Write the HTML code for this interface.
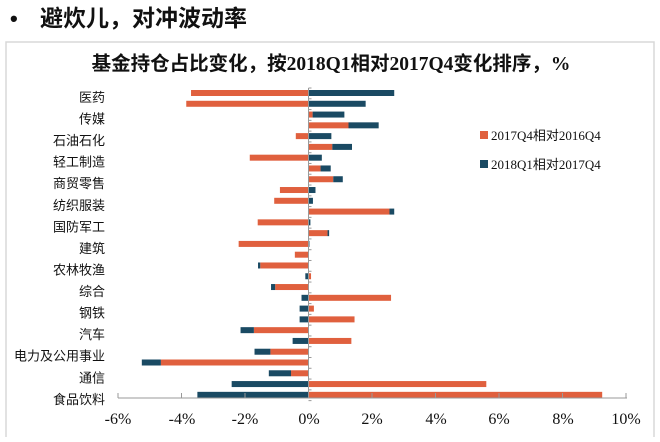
<!DOCTYPE html>
<html><head><meta charset="utf-8"><style>
body{margin:0;width:660px;height:437px;background:#fff;overflow:hidden;font-family:"Liberation Sans","Noto Sans CJK SC",sans-serif;}
</style></head><body>
<svg width="660" height="437" xmlns="http://www.w3.org/2000/svg">
<text x="10" y="26" font-size="22" font-weight="bold" font-family="Liberation Sans,Noto Sans CJK SC,sans-serif" fill="#111">•</text>
<text x="40" y="26" font-size="23" font-weight="bold" font-family="Liberation Sans,Noto Sans CJK SC,sans-serif" fill="#111">避炊儿，对冲波动率</text>
<rect x="6" y="42" width="648" height="400" fill="none" stroke="#d8d8d8" stroke-width="1.5"/>
<text x="331" y="70" text-anchor="middle" font-size="19.5" font-weight="bold" font-family="Liberation Serif,Noto Sans CJK SC,serif" fill="#111">基金持仓占比变化，按2018Q1相对2017Q4变化排序，%</text>
<g id="bars"></g>
<line x1="118" y1="398" x2="627" y2="398" stroke="#999" stroke-width="1"/>
<g stroke="#999" stroke-width="1" id="ticks"></g>
<g font-family="Liberation Serif,serif" font-size="16" fill="#111" text-anchor="middle">
<text x="118" y="424">-6%</text><text x="182" y="424">-4%</text><text x="245" y="424">-2%</text><text x="309" y="424">0%</text><text x="372" y="424">2%</text><text x="436" y="424">4%</text><text x="499" y="424">6%</text><text x="563" y="424">8%</text><text x="626" y="424">10%</text>
</g>
<g font-family="Liberation Sans,Noto Sans CJK SC,sans-serif" font-size="13" fill="#111" text-anchor="end" id="labels"></g>
<rect x="480" y="131" width="8" height="8" fill="#E0603E"/>
<text x="491" y="140" font-size="13" font-family="Liberation Serif,Noto Sans CJK SC,serif" fill="#111">2017Q4相对2016Q4</text>
<rect x="480" y="160" width="8" height="8" fill="#1A4A63"/>
<text x="491" y="169" font-size="13" font-family="Liberation Serif,Noto Sans CJK SC,serif" fill="#111">2018Q1相对2017Q4</text>
</svg>
<script>
var d=[[-3.7,2.7],[-3.85,1.8],[0.13,1.0],[1.26,0.95],[-0.4,0.72],[0.75,0.62],[-1.85,0.42],[0.38,0.32],[0.78,0.3],[-0.9,0.22],[-1.08,0.14],[2.55,0.15],[-1.6,0.06],[0.6,0.05],[-2.2,0.03],[-0.43,0],[-1.52,-0.07],[0.08,-0.1],[-1.05,-0.13],[2.6,-0.22],[0.17,-0.28],[1.45,-0.28],[-1.72,-0.42],[1.35,-0.5],[-1.2,-0.5],[-4.65,-0.6],[-0.55,-0.7],[5.6,-2.42],[9.25,-3.5]];
var L=["医药","传媒","石油石化","轻工制造","商贸零售","纺织服装","国防军工","建筑","农林牧渔","综合","钢铁","汽车","电力及公用事业","通信","食品饮料"];
var z=308.5,s=31.75,ns="http://www.w3.org/2000/svg",g=document.getElementById('bars');
function r(x,y,w,c){var e=document.createElementNS(ns,'rect');e.setAttribute('x',x);e.setAttribute('y',y);e.setAttribute('width',Math.max(w,0.5));e.setAttribute('height',6);e.setAttribute('fill',c);g.appendChild(e);}
d.forEach(function(v,i){var y=93+i*10.78-3,p=0,n=0;
[[v[0],'#E0603E'],[v[1],'#1A4A63']].forEach(function(q){var a=q[0];if(a>=0){r(z+p*s,y,a*s,q[1]);p+=a;}else{n+=a;r(z+n*s,y,-a*s,q[1]);}});});
var t=document.getElementById('ticks');
for(var i=0;i<=29;i++){var l=document.createElementNS(ns,'line');var yy=88+i*10.78;l.setAttribute('x1',z);l.setAttribute('x2',z+3);l.setAttribute('y1',yy);l.setAttribute('y2',yy);t.appendChild(l);}
var v=document.createElementNS(ns,'line');v.setAttribute('x1',z);v.setAttribute('x2',z);v.setAttribute('y1',88);v.setAttribute('y2',398);t.appendChild(v);
for(var k=0;k<9;k++){var l2=document.createElementNS(ns,'line');var xx=118+k*63.5;l2.setAttribute('x1',xx);l2.setAttribute('x2',xx);l2.setAttribute('y1',393);l2.setAttribute('y2',398);t.appendChild(l2);}
var lg=document.getElementById('labels');
L.forEach(function(s2,i){var e=document.createElementNS(ns,'text');e.setAttribute('x',105);e.setAttribute('y',97+i*21.56+5);e.textContent=s2;lg.appendChild(e);});
</script>
</body></html>
